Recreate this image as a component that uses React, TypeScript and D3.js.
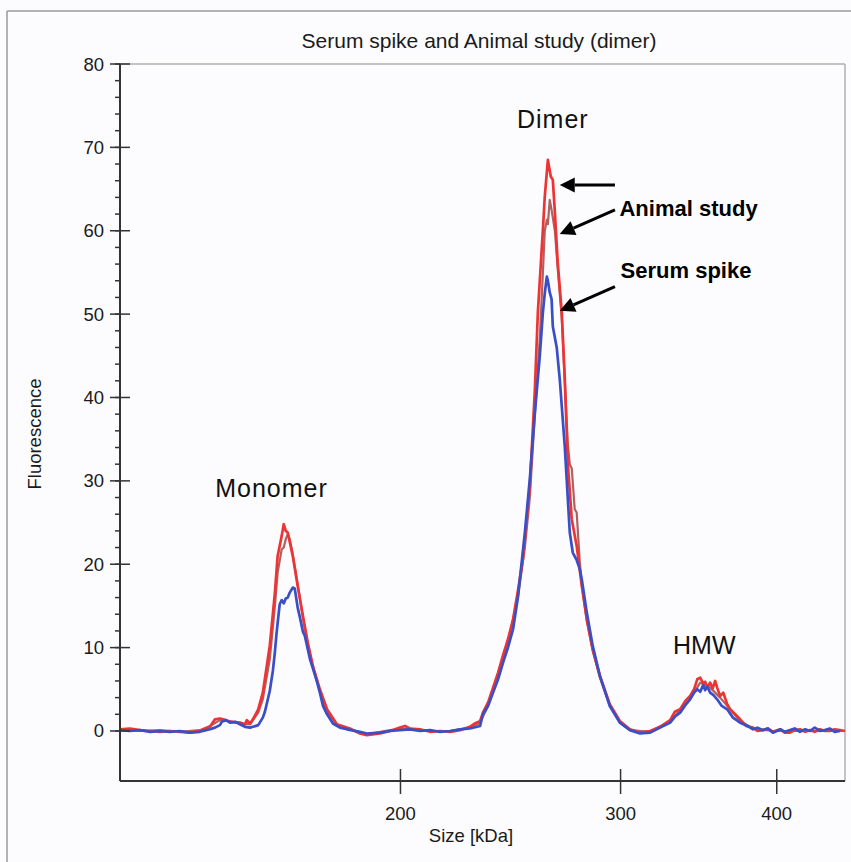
import React from "react";
import * as d3 from "d3";

// Size [kDa] / Fluorescence pairs
const blueSize = [119.3,121.5,123.8,126.1,128.4,130.8,133.2,135.7,138.2,140.8,142.1,143.4,143.9,145.0,146.1,147.5,148.8,150.2,151.6,152.4,153.9,155.2,155.8,157.2,158.1,158.7,159.2,160.1,160.7,161.3,161.9,162.5,163.1,164.0,164.6,165.5,166.2,167.1,167.7,168.6,169.3,170.2,171.5,172.4,173.4,174.7,176.6,178.9,181.2,185.6,188.0,192.6,196.2,199.8,203.5,207.3,211.2,215.1,219.1,223.2,227.3,231.6,232.8,235.0,237.2,239.4,241.6,243.8,246.1,248.3,249.2,251.5,253.8,256.2,258.5,260.0,260.9,261.9,262.4,263.3,264.2,264.8,266.7,268.2,270.7,273.2,274.7,276.7,278.3,279.3,281.9,285.0,288.8,294.1,299.6,305.2,310.9,316.8,322.7,328.7,331.5,334.8,338.0,341.0,343.5,345.5,347.4,349.3,350.6,352.0,353.8,356.0,358.4,361.5,365.1,369.0,373.9,378.0,382.9,386.0,390.0,393.5,397.2,403.0,406.0,409.9,413.5,417.5,421.5,425.3,429.0,433.2,437.0,441.2,445.0,449.4,453.6];
const blueVal = [0.1,0.0,0.1,-0.1,0.0,-0.1,0.0,-0.2,-0.1,0.2,0.4,0.7,1.1,1.3,1.0,1.1,0.8,0.5,0.4,0.5,0.7,1.6,2.3,4.8,7.2,9.5,11.8,15.2,15.7,15.3,15.9,16.0,16.6,17.2,17.1,14.8,13.6,11.9,11.4,9.8,8.6,7.5,5.9,4.6,3.0,2.0,0.9,0.4,0.2,-0.1,-0.3,-0.2,0.0,0.1,0.2,0.0,0.1,-0.1,0.0,0.2,0.3,0.6,2.0,3.0,4.6,6.2,8.2,10.0,12.2,16.0,18.2,23.8,30.2,38.2,44.9,50.2,52.5,54.5,54.0,52.6,51.8,48.5,46.0,42.2,34.1,23.8,21.4,20.5,19.4,18.2,14.2,10.2,6.6,3.0,1.0,0.1,-0.3,-0.2,0.4,1.0,1.7,2.2,3.1,3.8,4.6,5.0,4.7,5.5,4.9,5.3,4.6,4.3,3.8,3.0,2.6,1.6,1.0,0.7,0.2,0.4,0.1,0.3,-0.2,0.2,-0.1,0.1,0.3,-0.1,0.2,0.0,0.4,0.0,0.1,0.3,-0.1,0.0];

const redSize = [119.3,121.5,123.8,126.1,128.4,130.8,133.2,135.7,138.2,140.8,142.1,143.4,145.0,146.1,148.8,150.2,150.7,151.6,152.4,153.9,155.2,157.2,158.7,159.5,160.7,161.3,161.9,162.5,164.0,165.5,167.1,168.6,170.2,172.4,174.7,177.9,182.2,185.6,188.0,192.6,196.2,199.8,201.7,203.5,207.3,211.2,215.1,219.1,223.2,227.3,229.4,231.6,232.8,235.0,237.2,239.4,241.6,243.8,246.1,248.3,250.6,253.8,256.2,257.6,260.0,260.9,262.4,263.8,264.8,265.8,267.2,269.2,270.7,272.2,274.2,276.7,279.3,281.9,285.0,288.8,294.1,299.6,305.2,310.9,316.8,322.7,328.7,331.5,334.8,338.0,341.0,343.5,345.5,347.4,349.3,350.6,352.0,353.8,355.5,357.1,358.4,360.4,362.5,365.1,367.1,370.0,373.9,378.0,382.9,386.0,390.0,393.5,397.2,402.4,406.0,409.9,413.5,417.5,421.5,425.3,429.0,433.2,437.0,441.2,445.0,449.4,453.6];
const redVal = [0.2,0.3,0.1,0.0,-0.1,0.0,-0.1,-0.2,0.0,0.5,1.4,1.5,1.3,1.1,1.0,0.8,1.3,0.9,1.4,2.6,4.6,10.2,16.6,21.0,23.4,24.8,24.0,23.8,21.0,17.4,13.8,10.6,7.8,5.0,2.6,0.8,0.3,-0.3,-0.5,-0.3,0.0,0.4,0.6,0.3,0.2,-0.1,0.0,-0.1,0.1,0.5,0.9,1.2,2.2,3.4,5.2,7.0,9.1,11.0,13.4,16.8,20.6,29.3,41.0,50.2,60.1,64.1,68.5,66.5,66.1,62.2,56.2,50.2,42.2,32.2,25.4,22.2,17.4,13.4,9.8,6.6,3.2,1.2,0.2,-0.2,0.0,0.5,1.3,2.3,2.6,3.6,4.2,5.0,6.2,6.4,5.7,5.9,5.2,5.8,5.1,6.0,5.2,4.2,4.6,3.2,2.6,2.1,1.4,0.6,0.4,0.0,0.1,0.3,-0.1,0.2,-0.2,-0.2,0.1,0.2,-0.1,0.1,-0.1,0.2,0.0,0.0,0.2,0.1,0.0];

const brownSize = [119.3,123.8,128.4,133.2,138.2,140.8,143.4,146.1,148.8,151.6,153.9,155.2,157.2,158.7,159.5,160.7,161.3,161.9,162.5,163.1,164.0,165.5,167.1,168.6,170.2,172.4,174.7,177.9,182.2,188.0,196.2,203.5,211.2,219.1,227.3,231.6,235.0,239.4,243.8,248.3,251.5,253.8,256.2,258.5,260.0,260.9,261.9,262.4,263.3,264.2,265.8,267.2,269.2,270.7,272.2,273.2,274.2,275.7,276.7,278.3,279.3,281.9,285.0,288.8,294.1,299.6,305.2,316.8,328.7,341.0,347.4,353.8,360.4,373.9,382.9,397.2,417.5,453.6];
const brownVal = [0.2,0.0,0.1,-0.1,0.1,0.6,1.3,1.2,0.9,0.8,2.2,3.8,8.6,15.0,19.0,21.8,22.0,23.0,23.6,23.0,21.2,17.6,13.6,10.4,7.6,4.8,2.4,0.7,0.2,-0.4,0.1,0.3,0.0,0.0,0.4,1.0,3.0,6.6,10.6,16.0,22.0,28.0,38.0,47.0,55.0,60.0,61.3,60.8,63.7,62.5,60.0,55.5,49.5,42.0,34.5,32.0,31.5,26.6,26.2,20.2,17.6,13.2,9.6,6.4,3.0,1.0,0.1,-0.1,1.2,3.8,5.8,5.2,4.0,1.2,0.3,0.0,0.0,0.0];

const xTicks = [200, 300, 400];
const yMajorTicks = [0, 10, 20, 30, 40, 50, 60, 70, 80];
const yMinorTicks = d3.range(0, 81, 2);

const peakLabels = [
  { text: "Monomer", size: 157.7, value: 28.1, spacing: 1 },
  { text: "Dimer", size: 264.8, value: 72.3, spacing: 1 },
  { text: "HMW", size: 350, value: 9.2, spacing: 0 },
];
// arrows: tail -> tip in data coordinates
const arrows = [
  { x0: 296.9, y0: 65.5, x1: 268.2, y1: 65.5 },
  { x0: 296.9, y0: 62.5, x1: 268.2, y1: 59.6 },
  { x0: 296.9, y0: 53.3, x1: 268.2, y1: 50.4 },
];
const arrowLabels = [
  { text: "Animal study", size: 299.4, value: 61.8 },
  { text: "Serum spike", size: 300.0, value: 54.3 },
];

const W = 851, H = 862;
const left = 120, right = 845, top = 64, bottom = 781;
const font = "'Liberation Sans', Arial, sans-serif";

export default function App() {
  const x = d3.scaleLog().domain([119.3, 453.6]).range([left, right]);
  const y = d3.scaleLinear().domain([-6, 80]).range([bottom, top]);
  const line = d3.line<[number, number]>().x(d => x(d[0])).y(d => y(d[1]));
  const mk = (s: number[], v: number[]) => s.map((k, i) => [k, v[i]] as [number, number]);

  const arrowPath = (a: typeof arrows[0]) => {
    const x0 = x(a.x0), y0 = y(a.y0), x1 = x(a.x1), y1 = y(a.y1);
    const dx = x1 - x0, dy = y1 - y0;
    const len = Math.hypot(dx, dy);
    const ux = dx / len, uy = dy / len;
    const hl = 15, hw = 7.5;
    const bx = x1 - ux * hl, by = y1 - uy * hl;
    return {
      shaft: `M${x0},${y0}L${bx},${by}`,
      head: `M${x1},${y1}L${bx - uy * hw},${by + ux * hw}L${bx + uy * hw},${by - ux * hw}Z`,
    };
  };

  return (
    <svg width={W} height={H} style={{ position: "absolute", left: 0, top: 0, background: "#fcfcfe" }}>
      <rect x={0} y={0} width={W} height={H} fill="#fcfcfe" />
      {/* outer frame */}
      <line x1={7} y1={11} x2={W} y2={11} stroke="#9a9a9a" strokeWidth={1.5} />
      <line x1={7} y1={11} x2={7} y2={H} stroke="#9a9a9a" strokeWidth={1.5} />
      {/* title */}
      <text x={479} y={48} textAnchor="middle" fontFamily={font} fontSize={21} fill="#1a1a1a">
        Serum spike and Animal study (dimer)
      </text>
      {/* plot box top/right */}
      <line x1={left} y1={top} x2={right} y2={top} stroke="#b0b0b0" strokeWidth={1.5} />
      <line x1={right} y1={top} x2={right} y2={bottom} stroke="#b0b0b0" strokeWidth={1.5} />
      {/* curves */}
      <g fill="none" strokeLinejoin="round">
        <path d={line(mk(brownSize, brownVal)) || ""} stroke="#b25f5f" strokeWidth={2.2} />
        <path d={line(mk(redSize, redVal)) || ""} stroke="#ec3434" strokeWidth={2.7} />
        <path d={line(mk(blueSize, blueVal)) || ""} stroke="#3a4fc6" strokeWidth={2.7} />
      </g>
      {/* axes */}
      <line x1={left} y1={top} x2={left} y2={bottom} stroke="#333" strokeWidth={2} />
      <line x1={left} y1={bottom} x2={right} y2={bottom} stroke="#333" strokeWidth={2} />
      {yMinorTicks.map(t => (
        <line key={"m" + t} x1={left - 5} x2={left} y1={y(t)} y2={y(t)} stroke="#333" strokeWidth={1.5} />
      ))}
      {yMajorTicks.map(t => (
        <g key={"y" + t}>
          <line x1={left - 10} x2={left + 10} y1={y(t)} y2={y(t)} stroke="#333" strokeWidth={1.5} />
          <text x={104} y={y(t) + 6.5} textAnchor="end" fontFamily={font} fontSize={18.5} fill="#1a1a1a">{t}</text>
        </g>
      ))}
      {xTicks.map(t => (
        <g key={"x" + t}>
          <line x1={x(t)} x2={x(t)} y1={bottom - 12} y2={bottom + 13} stroke="#333" strokeWidth={1.5} />
          <text x={x(t)} y={820} textAnchor="middle" fontFamily={font} fontSize={18.5} fill="#1a1a1a">{t}</text>
        </g>
      ))}
      <text x={471} y={842} textAnchor="middle" fontFamily={font} fontSize={18.5} fill="#1a1a1a">Size [kDa]</text>
      <text transform="translate(41,434) rotate(-90)" textAnchor="middle" fontFamily={font} fontSize={18.5} fill="#1a1a1a">Fluorescence</text>
      {/* annotations */}
      {peakLabels.map(p => (
        <text key={p.text} x={x(p.size)} y={y(p.value)} textAnchor="middle" fontFamily={font} fontSize={25} letterSpacing={p.spacing} fill="#111">{p.text}</text>
      ))}
      {arrows.map((a, i) => {
        const p = arrowPath(a);
        return (
          <g key={"a" + i}>
            <path d={p.shaft} stroke="#000" strokeWidth={3} />
            <path d={p.head} fill="#000" />
          </g>
        );
      })}
      {arrowLabels.map(l => (
        <text key={l.text} x={x(l.size)} y={y(l.value)} fontFamily={font} fontSize={22} fontWeight="bold" fill="#000">{l.text}</text>
      ))}
    </svg>
  );
}
